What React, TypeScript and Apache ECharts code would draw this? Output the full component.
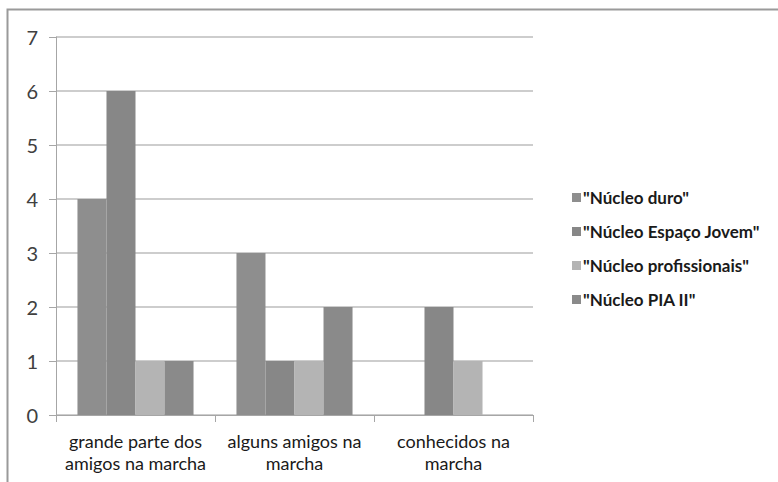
import React, { useEffect, useRef } from "react";
import * as echarts from "echarts";

const categories = [
  "grande parte dos\namigos na marcha",
  "alguns amigos na\nmarcha",
  "conhecidos na\nmarcha",
];
const seriesNames = [
  "\"Núcleo duro\"",
  "\"Núcleo Espaço Jovem\"",
  "\"Núcleo profissionais\"",
  "\"Núcleo PIA II\"",
];
const nucleoDuro = [4, 3, 0];
const nucleoEspacoJovem = [6, 1, 2];
const nucleoProfissionais = [1, 1, 1];
const nucleoPiaII = [1, 2, 0];
const seriesValues = [nucleoDuro, nucleoEspacoJovem, nucleoProfissionais, nucleoPiaII];
const seriesColors = ["#8e8e8e", "#878787", "#b4b4b4", "#8a8a8a"];
const yTicks = { min: 0, max: 7, interval: 1 };

const FONT = "Lato, 'Open Sans', sans-serif";

export default function App() {
  const ref = useRef<HTMLDivElement>(null);
  useEffect(() => {
    if (!ref.current) return;
    const chart = echarts.init(ref.current, undefined, { renderer: "svg" });
    chart.setOption({
      animation: false,
      backgroundColor: "#ffffff",
      textStyle: { fontFamily: FONT },
      graphic: [
        {
          type: "rect",
          shape: { x: 7.5, y: 9.5, width: 800, height: 500 },
          style: { fill: "none", stroke: "#9a9a9a", lineWidth: 2 },
          silent: true,
          z: -10,
        },
      ],
      grid: { left: 56, right: 245, top: 37, bottom: 67, containLabel: false },
      legend: {
        orient: "vertical",
        left: 567,
        top: 184,
        itemWidth: 9,
        itemHeight: 9,
        itemGap: 17,
        icon: "rect",
        textStyle: { fontFamily: FONT, fontSize: 17, color: "#1a1a1a", fontWeight: "bold", padding: [0, 0, 0, -3] },
        data: seriesNames,
      },
      xAxis: {
        type: "category",
        data: categories,
        axisLine: { show: true, lineStyle: { color: "#a6a6a6", width: 1 } },
        axisTick: { show: true, length: 7, alignWithLabel: false, lineStyle: { color: "#a6a6a6" } },
        axisLabel: {
          fontFamily: FONT,
          fontSize: 18,
          color: "#1a1a1a",
          margin: 15,
          lineHeight: 22,
          interval: 0,
        },
      },
      yAxis: {
        type: "value",
        min: yTicks.min,
        max: yTicks.max,
        interval: yTicks.interval,
        axisLine: { show: true, lineStyle: { color: "#a6a6a6", width: 1 } },
        axisTick: { show: true, length: 7, lineStyle: { color: "#a6a6a6" } },
        splitLine: { show: true, lineStyle: { color: "#bdbdbd", width: 1.5 } },
        axisLabel: { fontFamily: FONT, fontSize: 20, color: "#404040", margin: 18 },
      },
      series: seriesNames.map((name, i) => ({
        name,
        type: "bar",
        data: seriesValues[i],
        barGap: "0%",
        barCategoryGap: "27%",
        itemStyle: { color: seriesColors[i] },
      })),
    });
    return () => chart.dispose();
  }, []);
  return (
    <div
      ref={ref}
      style={{ position: "fixed", left: 0, top: 0, width: 778, height: 482 }}
    />
  );
}
